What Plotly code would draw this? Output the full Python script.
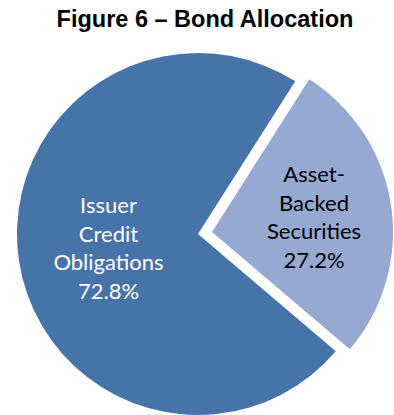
import plotly.graph_objects as go

labels = ["Asset-Backed Securities", "Issuer Credit Obligations"]
label_lines = ["Asset-<br>Backed<br>Securities", "Issuer<br>Credit<br>Obligations"]
values = [27.2, 72.8]
colors = ["#95A9D3", "#4673A8"]
text_colors = ["#000000", "#FFFFFF"]
title = "Figure 6 – Bond Allocation"

W, H = 394, 415

def dom(cx, cy, r):
    return dict(x=[(cx - r) / W, (cx + r) / W], y=[1 - (cy + r) / H, 1 - (cy - r) / H])

fig = go.Figure()
# draw each slice as its own trace so the exploded slice keeps full size
offsets = [(212, 232), (198, 234)]
r = 181
for i in range(len(values)):
    cols = ["rgba(0,0,0,0)"] * len(values)
    cols[i] = colors[i]
    tmpl = [""] * len(values)
    tmpl[i] = label_lines[i] + "<br>%{percent:.1%}"
    cx, cy = offsets[i]
    fig.add_trace(go.Pie(
        labels=labels, values=values, sort=False, direction="clockwise",
        rotation=32.5,
        marker=dict(colors=cols, line=dict(width=0)),
        texttemplate=tmpl, textposition="inside", insidetextorientation="horizontal",
        textfont=dict(family="Lato", size=22, color=text_colors[i]),
        domain=dom(cx, cy, r), showlegend=False, hoverinfo="skip",
    ))

fig.update_layout(
    width=W, height=H, margin=dict(l=0, r=0, t=0, b=0),
    paper_bgcolor="white", plot_bgcolor="white",
    title=dict(text="<b>" + title + "</b>", x=205 / W, xanchor="center", y=1 - 19 / H, yanchor="middle",
               font=dict(family="Liberation Sans", size=23.5, color="#000000")),
)
fig.write_html("out.html")
